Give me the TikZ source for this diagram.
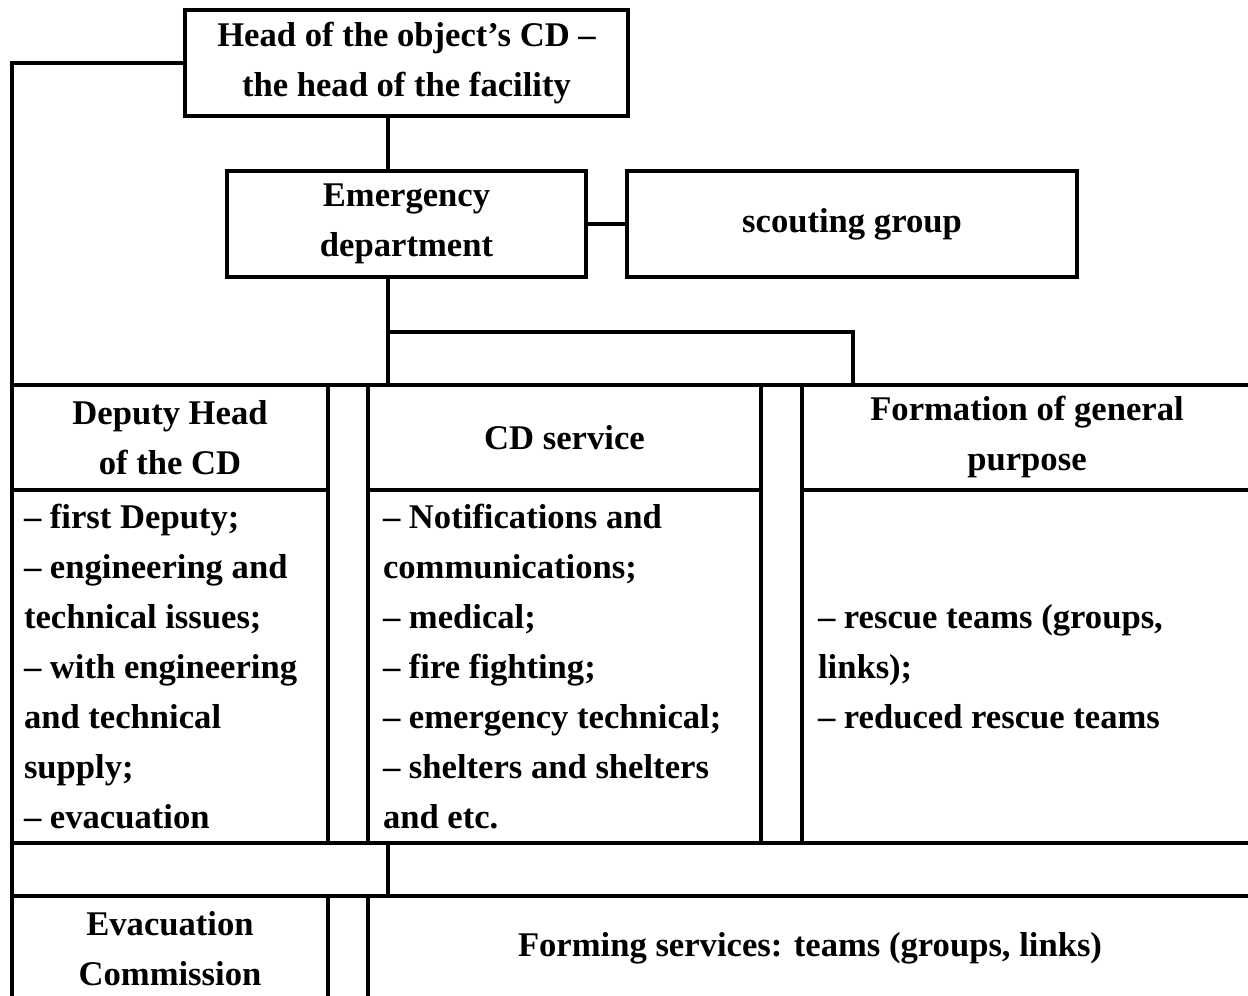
\documentclass[tikz,border=0pt]{standalone}
\usepackage{fontspec}
\setmainfont{Liberation Serif}
\usetikzlibrary{positioning}

\begin{document}
\begin{tikzpicture}[
  font=\bfseries\fontsize{19.7}{28.45}\selectfont,
  line width=1.8pt,
  box/.style={draw, align=center, inner sep=0pt, outer sep=0pt,
    minimum height=2.12cm},
  cell/.style={draw, anchor=north west, inner sep=0pt, outer sep=0pt,
    align=center},
  list/.style={cell, align=flush left},
]
  \clip (0,0) rectangle (24.96,19.92);

  \node[box, minimum width=8.86cm] (head) at (8.13,18.66)
    {Head of the object's CD --\\the head of the facility};
  \node[box, minimum width=7.18cm, below=1.1cm of head] (emerg)
    {Emergency\\department};
  \node[box, minimum width=9.0cm, right=0.82cm of emerg] (scout)
    {scouting group};

  % trunk line and fork
  \coordinate (axis) at (7.76,0);
  \coordinate (fork) at (17.06,13.28);

  % middle row
  \node[cell, minimum width=6.32cm, minimum height=2.1cm] (dephead)
    at (0.24,12.22) {Deputy Head\\of the CD};
  \node[list, text width=5.84cm, minimum width=6.32cm, minimum height=7.06cm]
    (depbody) at (dephead.south west)
    {-- first Deputy;\\-- engineering and\\technical issues;\\%
     -- with engineering\\and technical\\supply;\\-- evacuation};
  \node[cell, minimum width=0.8cm, minimum height=9.16cm] (gapa)
    at (dephead.north east) {};
  \node[cell, minimum width=7.86cm, minimum height=2.1cm] (cdhead)
    at (gapa.north east) {CD service};
  \node[list, text width=7.26cm, minimum width=7.86cm, minimum height=7.06cm]
    (cdbody) at (cdhead.south west)
    {-- Notifications and\\communications;\\-- medical;\\-- fire fighting;\\%
     -- emergency technical;\\-- shelters and shelters\\and etc.};
  \node[cell, minimum width=0.82cm, minimum height=9.16cm] (gapb)
    at (cdhead.north east) {};
  \node[cell, minimum width=9.0cm, minimum height=2.1cm] (formhead)
    at (gapb.north east) {Formation of general\\purpose};
  \node[list, text width=8.36cm, minimum width=9.0cm, minimum height=7.06cm]
    (formbody) at (formhead.south west)
    {-- rescue teams (groups,\\links);\\-- reduced rescue teams};

  % bottom row (runs off the page)
  \node[cell, minimum width=6.32cm, minimum height=2.1cm] (evac)
    at ([yshift=-1.06cm]depbody.south west) {Evacuation\\Commission};
  \node[cell, minimum width=0.8cm, minimum height=2.1cm] (gapc)
    at (evac.north east) {};
  \node[cell, minimum width=17.68cm, minimum height=2.1cm] (forming)
    at (gapc.north east) {Forming services: teams (groups, links)};

  \draw (head.west) -| (dephead.north west);
  \draw (axis |- head.south) -- (axis |- emerg.north);
  \draw (emerg) -- (scout);
  \draw (axis |- emerg.south) -- (axis |- cdhead.north);
  \draw (axis |- fork) -- (fork) -- (fork |- formhead.north);
  \draw (depbody.south west) -- (evac.north west);
  \draw (axis |- cdbody.south) -- (axis |- forming.north);
\end{tikzpicture}
\end{document}
